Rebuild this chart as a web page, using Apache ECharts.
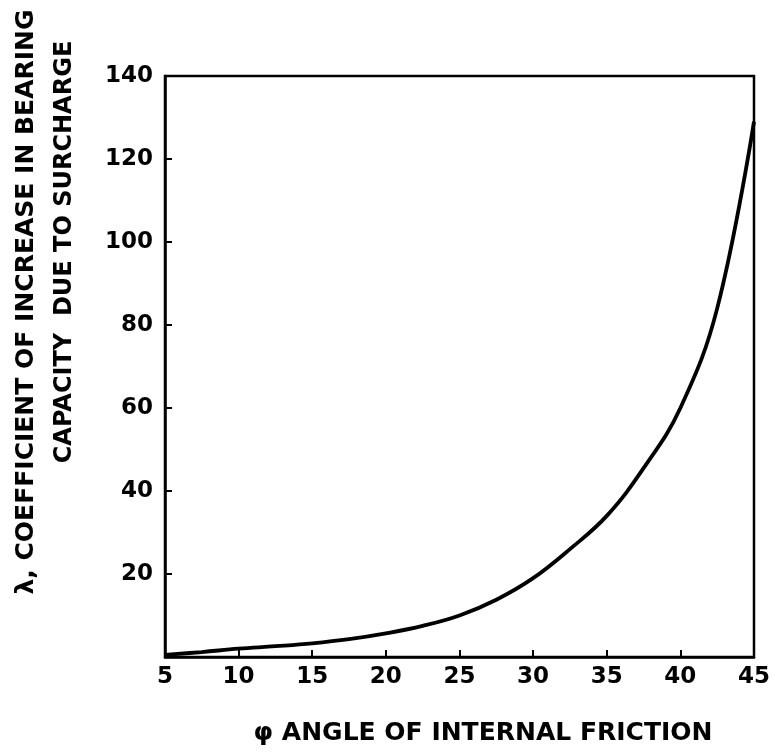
<!DOCTYPE html>
<html>
<head>
<meta charset="utf-8">
<script src="https://cdn.jsdelivr.net/npm/echarts@6/dist/echarts.min.js"></script>
<style>
html,body{margin:0;padding:0;background:#fff;overflow:hidden;}
#chart{width:773px;height:752px;}
</style>
</head>
<body>
<div id="chart"></div>
<script>
// Angle of internal friction (degrees)
var phi = [5, 7.5, 10, 12.5, 15, 17.5, 20, 22.5, 25, 27.5, 30, 32.5, 35, 37.5, 40, 42.5, 45];
// Coefficient lambda
var lambda = [0.5, 1.2, 2.0, 2.6, 3.3, 4.3, 5.7, 7.5, 10, 13.8, 19, 26, 34, 45.5, 60, 84, 129];
var xTicks = [5, 10, 15, 20, 25, 30, 35, 40, 45];
var yTicks = [20, 40, 60, 80, 100, 120, 140];
var yTitle1 = 'λ, COEFFICIENT OF INCREASE IN BEARING';
var yTitle2 = 'CAPACITY  DUE TO SURCHARGE';
var xTitle = 'φ ANGLE OF INTERNAL FRICTION';

var FONT = 'DejaVu Sans';
var pts = phi.map(function (p, i) { return [p, lambda[i]]; });

var chart = echarts.init(document.getElementById('chart'), null, {renderer: 'canvas', width: 773, height: 752});
chart.setOption({
  backgroundColor: '#ffffff',
  animation: false,
  grid: {left: 165, right: 11, top: 76, bottom: 95, show: true, borderColor: '#000', borderWidth: 2.5, backgroundColor: 'transparent'},
  xAxis: {
    type: 'value', min: xTicks[0], max: xTicks[xTicks.length - 1], interval: 5,
    axisLine: {show: true, lineStyle: {color: '#000', width: 2.5}},
    axisTick: {show: true, inside: true, length: 7, lineStyle: {color: '#000', width: 2}},
    axisLabel: {color: '#000', fontFamily: FONT, fontWeight: 'bold', fontSize: 23, margin: 9,
      formatter: function (v) { return xTicks.indexOf(v) >= 0 ? String(v) : ''; }},
    splitLine: {show: false}
  },
  yAxis: {
    type: 'value', min: 0, max: 140, interval: 20,
    axisLine: {show: true, lineStyle: {color: '#000', width: 2.5}},
    axisTick: {show: true, inside: true, length: 7, lineStyle: {color: '#000', width: 2}},
    axisLabel: {color: '#000', fontFamily: FONT, fontWeight: 'bold', fontSize: 23, margin: 12,
      formatter: function (v) { return yTicks.indexOf(v) >= 0 ? String(v) : ''; }},
    splitLine: {show: false}
  },
  series: [{
    type: 'line', data: pts, smooth: 0.4, showSymbol: false, symbol: 'none',
    lineStyle: {color: '#000', width: 3.8}, clip: true
  }],
  graphic: [
    {type: 'text', x: 26, y: 302, rotation: Math.PI / 2,
      style: {text: yTitle1, fill: '#000', font: 'bold 25px "DejaVu Sans"', textAlign: 'center', textVerticalAlign: 'middle'}},
    {type: 'text', x: 65, y: 252, rotation: Math.PI / 2,
      style: {text: yTitle2, fill: '#000', font: 'bold 24px "DejaVu Sans"', textAlign: 'center', textVerticalAlign: 'middle'}},
    {type: 'text', x: 483, y: 733,
      style: {text: xTitle, fill: '#000', font: 'bold 25px "DejaVu Sans"', textAlign: 'center', textVerticalAlign: 'middle'}}
  ]
});
</script>
</body>
</html>
